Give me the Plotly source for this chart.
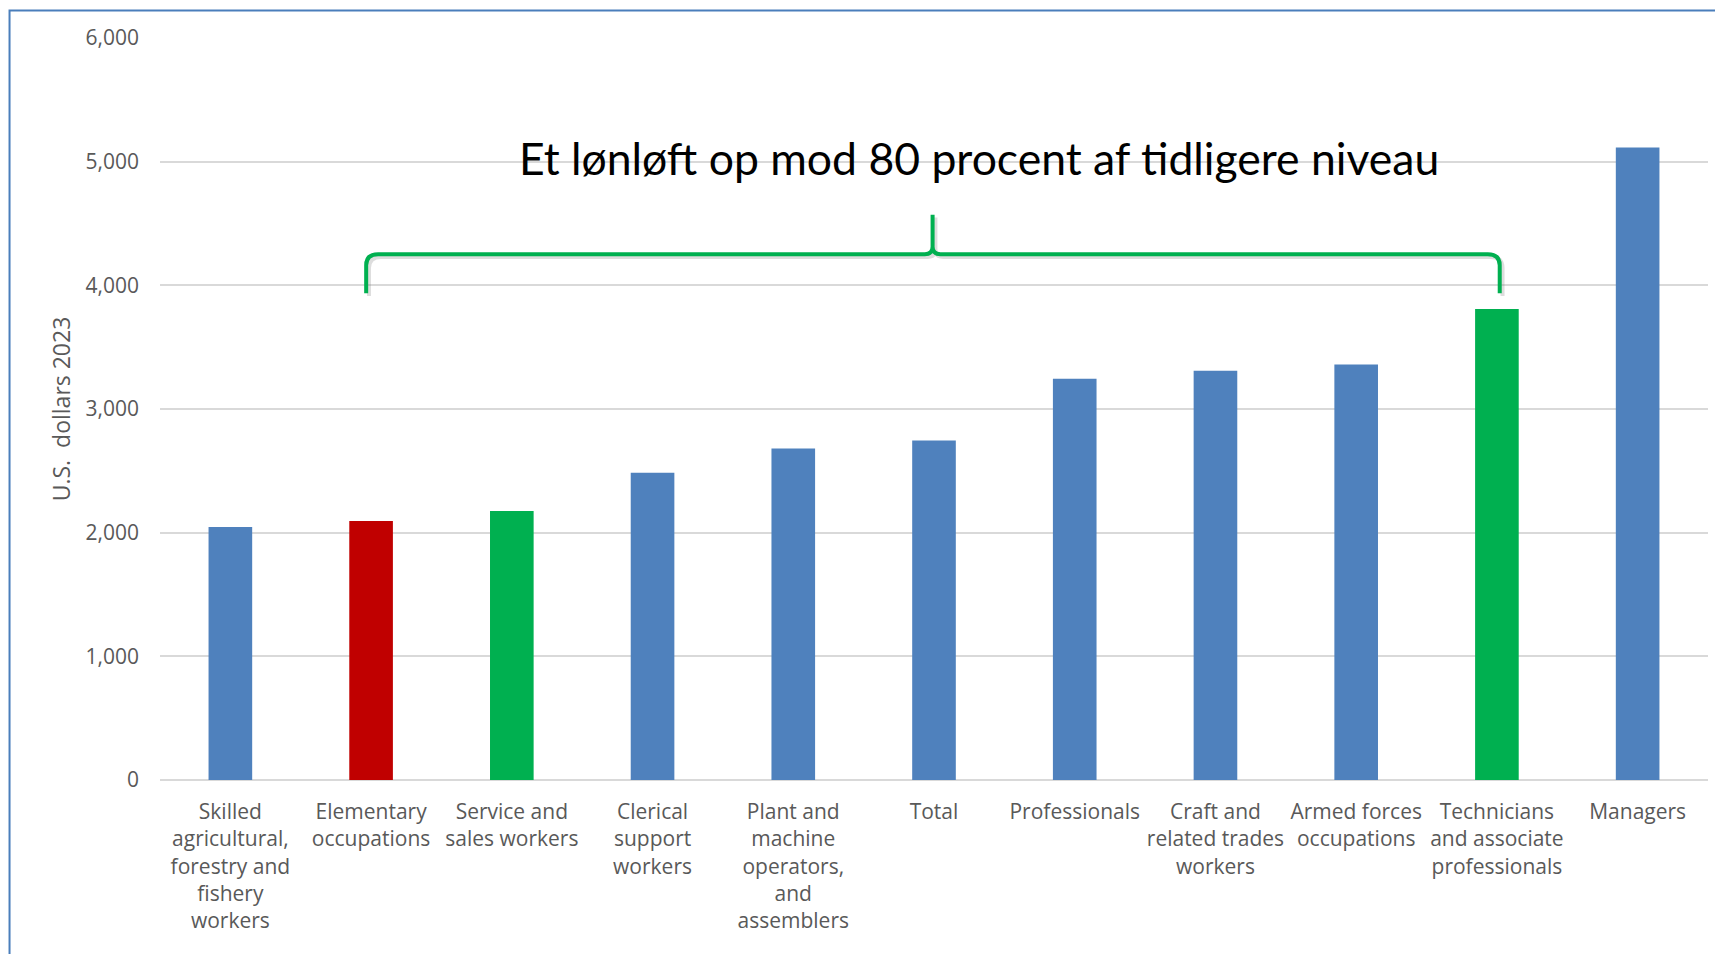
import plotly.graph_objects as go

categories = [
    "Skilled agricultural, forestry and fishery workers",
    "Elementary occupations",
    "Service and sales workers",
    "Clerical support workers",
    "Plant and machine operators, and assemblers",
    "Total",
    "Professionals",
    "Craft and related trades workers",
    "Armed forces occupations",
    "Technicians and associate professionals",
    "Managers",
]
tick_labels = [
    "Skilled<br>agricultural,<br>forestry and<br>fishery<br>workers",
    "Elementary<br>occupations",
    "Service and<br>sales workers",
    "Clerical<br>support<br>workers",
    "Plant and<br>machine<br>operators,<br>and<br>assemblers",
    "Total",
    "Professionals",
    "Craft and<br>related trades<br>workers",
    "Armed forces<br>occupations",
    "Technicians<br>and associate<br>professionals",
    "Managers",
]
values = [2045, 2095, 2175, 2485, 2680, 2745, 3245, 3310, 3360, 3808, 5115]
bar_colors = ["#4f81bd", "#c00000", "#00b050", "#4f81bd", "#4f81bd", "#4f81bd",
              "#4f81bd", "#4f81bd", "#4f81bd", "#00b050", "#4f81bd"]
y_ticks = [0, 1000, 2000, 3000, 4000, 5000, 6000]
annotation_text = "Et lønløft op mod 80 procent af tidligere niveau"

# brace spanning Elementary (1) .. Technicians (9), peak over Total (5)
brace_left, brace_mid, brace_right = 0.965, 4.99, 9.02
brace_bottom, brace_line, brace_peak = 3935, 4252, 4570

xs = list(range(len(categories)))

fig = go.Figure()
fig.add_trace(go.Bar(
    x=xs, y=values, marker=dict(color=bar_colors, line=dict(width=0)),
    width=0.31, hovertext=categories, showlegend=False,
))

def brace_path(dx=0.0, dy=0.0):
    rx, ry = 0.085, 90
    px, py = 0.055, 60
    L, M, R = brace_left + dx, brace_mid + dx, brace_right + dx
    B, H, P = brace_bottom + dy, brace_line + dy, brace_peak + dy
    return (f"M {L},{B} L {L},{H - ry} Q {L},{H} {L + rx},{H} "
            f"L {M - px},{H} Q {M},{H} {M},{H + py} L {M},{P} "
            f"L {M},{H + py} Q {M},{H} {M + px},{H} "
            f"L {R - rx},{H} Q {R},{H} {R},{H - ry} L {R},{B}")

shapes = [
    dict(type="path", xref="x", yref="y", path=brace_path(0.02, -22),
         line=dict(color="rgba(120,120,120,0.25)", width=4)),
    dict(type="path", xref="x", yref="y", path=brace_path(),
         line=dict(color="#00b050", width=4)),
    dict(type="rect", xref="paper", yref="paper", x0=-0.0972, x1=1.05,
         y0=-0.4, y1=1.037, line=dict(color="#4a7ebb", width=2),
         fillcolor="rgba(0,0,0,0)", layer="above"),
]

fig.update_layout(
    width=1715, height=946,
    margin=dict(l=152, r=15, t=30, b=174),
    paper_bgcolor="white", plot_bgcolor="white",
    font=dict(family="Open Sans", color="#595959", size=21),
    shapes=shapes,
    annotations=[dict(
        x=5.32, y=5035, xref="x", yref="y", text=annotation_text,
        showarrow=False, font=dict(family="Lato", size=44.5, color="black"),
        xanchor="center", yanchor="middle",
    )],
    bargap=0.69,
)
fig.update_xaxes(
    range=[-0.5, len(categories) - 0.5], tickmode="array", tickvals=xs,
    ticktext=tick_labels, showgrid=False, zeroline=False, showline=False,
    ticks="", tickfont=dict(size=21, color="#595959"), ticklabelstandoff=17,
)
fig.update_yaxes(
    range=[0, 6000], tickmode="array", tickvals=y_ticks,
    ticktext=[f"{v:,}" for v in y_ticks], showgrid=True,
    gridcolor="#d9d9d9", gridwidth=1.5, zeroline=True, zerolinecolor="#d9d9d9",
    zerolinewidth=1.5, showline=False, ticks="",
    tickfont=dict(size=21, color="#595959"), ticklabelstandoff=20,
    title=dict(text="U.S.  dollars 2023", font=dict(size=23, color="#595959"),
               standoff=8),
)

fig.write_html("out.html")
